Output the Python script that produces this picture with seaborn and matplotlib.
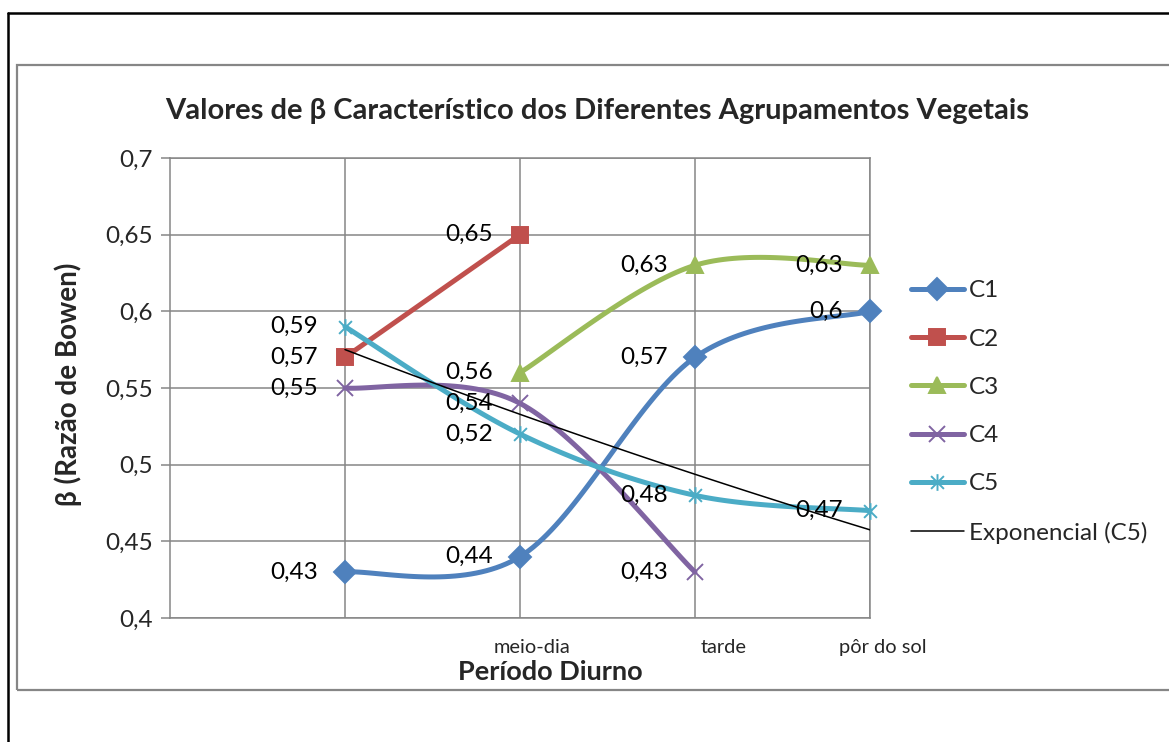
import numpy as np
import matplotlib
matplotlib.use("Agg")
import matplotlib.pyplot as plt
import matplotlib.transforms as mtrans
import seaborn as sns
from matplotlib.lines import Line2D
from matplotlib.patches import Rectangle
from matplotlib.path import Path

# data
categories = ["", "meio-dia", "tarde", "pôr do sol"]
c1 = [0.43, 0.44, 0.57, 0.60]
c2 = [0.57, 0.65, np.nan, np.nan]
c3 = [np.nan, 0.56, 0.63, 0.63]
c4 = [0.55, 0.54, 0.43, np.nan]
c5 = [0.59, 0.52, 0.48, 0.47]
series_names = ["C1", "C2", "C3", "C4", "C5"]
series_values = [c1, c2, c3, c4, c5]

colors = ["#4F81BD", "#C0504D", "#9BBB59", "#8064A2", "#4BACC6"]
grid_col = "#868686"

# asterisk marker (x plus vertical bar) like the Excel "star"
star = Path([(-1, -1), (1, 1), (-1, 1), (1, -1), (0, -1.3), (0, 1.3)],
	[Path.MOVETO, Path.LINETO, Path.MOVETO, Path.LINETO, Path.MOVETO, Path.LINETO])
markers = ["D", "s", "^", "x", star]
msizes = [11, 11, 12, 11, 12]


def smooth(xs, ys, n=40):
	"""Excel-like smoothed line: cubic bezier with 1/6 tangents."""
	pts = np.column_stack([xs, ys])
	out = []
	t = np.linspace(0, 1, n)[:, None]
	for i in range(len(pts) - 1):
		p0 = pts[max(i - 1, 0)]
		p1 = pts[i]
		p2 = pts[i + 1]
		p3 = pts[min(i + 2, len(pts) - 1)]
		k1 = p1 + (p2 - p0) / 6
		k2 = p2 - (p3 - p1) / 6
		seg = (1 - t) ** 3 * p1 + 3 * (1 - t) ** 2 * t * k1 + 3 * (1 - t) * t ** 2 * k2 + t ** 3 * p2
		out.append(seg if i == 0 else seg[1:])
	return np.vstack(out)


sns.set_style("white")
plt.rcParams["font.family"] = ["Lato", "DejaVu Sans"]

fig = plt.figure(figsize=(11.69, 7.42), dpi=100)
ax = fig.add_axes([0.1454, 0.1671, 0.5988, 0.62])

xpos = np.arange(1, len(categories) + 1)

handles = []
for k, (name, vals) in enumerate(zip(series_names, series_values)):
	vals = np.array(vals, dtype=float)
	ok = ~np.isnan(vals)
	xs, ys = xpos[ok], vals[ok]
	curve = smooth(xs, ys)
	sns.lineplot(x=curve[:, 0], y=curve[:, 1], ax=ax, sort=False, color=colors[k],
		lw=3.6, zorder=3 + k, clip_on=False, estimator=None)
	mk = markers[k]
	ax.plot(xs, ys, ls="none", marker=mk, ms=msizes[k], color=colors[k],
		mec=colors[k], mew=1.4, zorder=3.5 + k, clip_on=False)
	for x, y in zip(xs, ys):
		lbl = ("%g" % y).replace(".", ",")
		ax.annotate(lbl, (x, y), xytext=(-27, 0), textcoords="offset pixels",
			ha="right", va="center", fontsize=17.5, color="black", zorder=20)
	handles.append(Line2D([], [], color=colors[k], lw=3.6, marker=mk, ms=msizes[k],
		mec=colors[k], mew=1.4))

# exponential trendline of C5
b, a = np.polyfit(xpos, np.log(c5), 1)
xt = np.linspace(xpos[0], xpos[-1], 100)
sns.lineplot(x=xt, y=np.exp(a + b * xt), ax=ax, color="black", lw=1.1, zorder=15)
handles.append(Line2D([], [], color="black", lw=1.1))
labels = series_names + ["Exponencial (C5)"]

ax.set_xlim(0, 4)
ax.set_ylim(0.4, 0.7)
ax.set_yticks(np.arange(0.4, 0.7001, 0.05))
ax.set_yticklabels([("%g" % round(v, 2)).replace(".", ",") for v in np.arange(0.4, 0.7001, 0.05)])
ax.set_xticks(xpos)
ax.set_xticklabels(categories)
ax.grid(True, color=grid_col, lw=1.1)
ax.set_axisbelow(True)
for sp in ax.spines.values():
	sp.set_color(grid_col)
	sp.set_linewidth(1.1)
ax.tick_params(axis="y", length=6.5, width=1.1, color=grid_col, labelsize=17.5, pad=6, left=True)
ax.tick_params(axis="x", length=0, labelsize=14.4, pad=15)
ax.set_xlabel("")
ax.set_ylabel("")

# Excel puts the category labels a little right of the gridlines
shifts = [0, 12, 29, 13]
for lab, dx in zip(ax.get_xticklabels(), shifts):
	lab.set_transform(lab.get_transform() + mtrans.ScaledTranslation(dx / 100, 0, fig.dpi_scale_trans))

fig.text(0.511, 0.851, "Valores de β Característico dos Diferentes Agrupamentos Vegetais",
	ha="center", va="center", fontsize=21, fontweight="bold")
fig.text(0.058, 0.482, "β (Razão de Bowen)", rotation=90, ha="center", va="center",
	fontsize=20, fontweight="bold")
fig.text(0.471, 0.095, "Período Diurno", ha="center", va="center", fontsize=19.5, fontweight="bold")

fig.legend(handles, labels, loc="upper left", bbox_to_anchor=(0.779, 0.622), frameon=False,
	fontsize=17.5, handlelength=2.2, handletextpad=0.2, labelspacing=1.12, borderpad=0,
	borderaxespad=0)

# chart area border and page frame
fig.patches.append(Rectangle((17 / 1169, 1 - 690 / 742), 1.2, (690 - 65) / 742,
	transform=fig.transFigure, fill=False, edgecolor=grid_col, lw=1.6, zorder=0))
fig.lines.append(Line2D([8 / 1169, 1], [1 - 13 / 742, 1 - 13 / 742], transform=fig.transFigure,
	color="black", lw=1.8))
fig.lines.append(Line2D([8 / 1169, 8 / 1169], [1 - 13 / 742, 0], transform=fig.transFigure,
	color="black", lw=1.8))

fig.savefig("out.png", dpi=100)
